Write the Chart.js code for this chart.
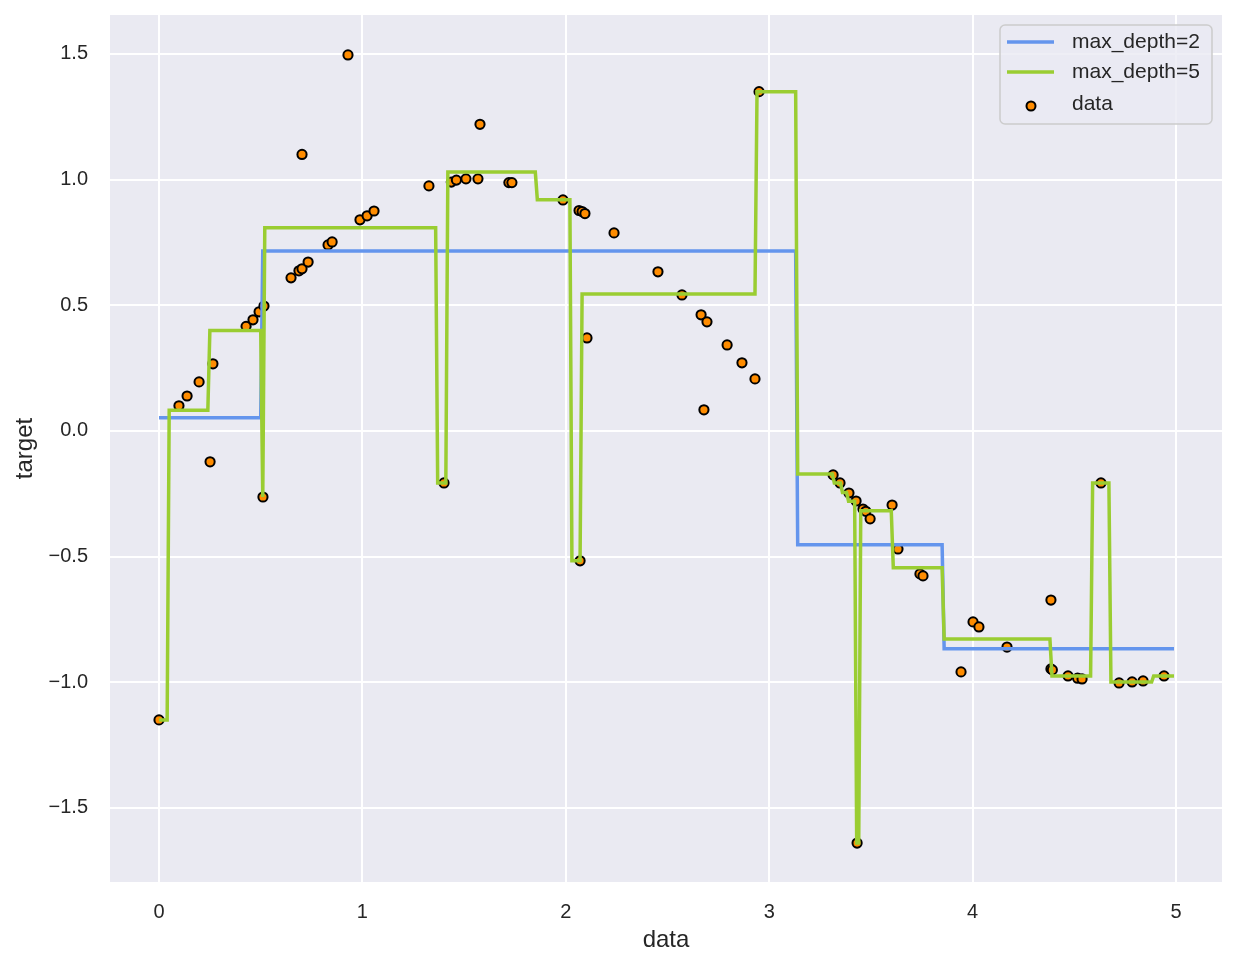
<!DOCTYPE html>
<html>
<head>
<meta charset="utf-8">
<script src="https://cdn.jsdelivr.net/npm/chart.js@4"></script>
<style>
body { margin: 0; background: #fff; }
#wrap { width: 1238px; height: 968px; }
</style>
</head>
<body>
<div id="wrap"><canvas id="grafico"></canvas></div>
<script>
// pontos observados
const dataX = [0.000, 0.098, 0.138, 0.197, 0.251, 0.265, 0.428, 0.462, 0.492, 0.511, 0.516,
    0.649, 0.688, 0.703, 0.703, 0.733, 0.831, 0.851, 0.929, 0.988, 1.023, 1.057,
    1.327, 1.401, 1.437, 1.462, 1.509, 1.568, 1.578, 1.720, 1.735, 1.986,
    2.065, 2.070, 2.080, 2.094, 2.104, 2.237, 2.453, 2.571, 2.665, 2.679, 2.694,
    2.793, 2.866, 2.930, 2.950, 3.314, 3.348, 3.392, 3.427, 3.432, 3.461, 3.475,
    3.496, 3.604, 3.633, 3.741, 3.756, 3.943, 4.002, 4.031, 4.169, 4.385, 4.385,
    4.392, 4.469, 4.516, 4.538, 4.631, 4.720, 4.784, 4.838, 4.941];
const dataY = [-1.150, 0.100, 0.139, 0.195, -0.123, 0.267, 0.416, 0.442, 0.474, -0.263, 0.497,
    0.609, 0.637, 0.645, 1.100, 0.672, 0.740, 0.752, 1.496, 0.840, 0.856, 0.875,
    0.975, -0.207, 0.990, 0.998, 1.003, 1.003, 1.220, 0.988, 0.988, 0.919,
    0.877, -0.517, 0.873, 0.865, 0.370, 0.788, 0.633, 0.541, 0.462, 0.084, 0.434,
    0.342, 0.271, 0.207, 1.350, -0.175, -0.207, -0.247, -0.279, -1.640, -0.311, -0.320,
    -0.350, -0.295, -0.470, -0.569, -0.577, -0.959, -0.760, -0.780, -0.860, -0.673, -0.947,
    -0.951, -0.975, -0.984, -0.987, -0.207, -1.003, -0.999, -0.995, -0.975];

// previsao da arvore max_depth=2 (degraus)
const depth2X = [0, 0.50, 0.51, 3.13, 3.14, 3.85, 3.86, 4.99];
const depth2Y = [0.052, 0.052, 0.716, 0.716, -0.453, -0.453, -0.867, -0.867];

// previsao da arvore max_depth=5
const depth5X = [0, 0.04, 0.05, 0.24, 0.25, 0.50, 0.51, 0.52, 1.36, 1.37, 1.41, 1.42,
    1.85, 1.86, 2.02, 2.03, 2.07, 2.08, 2.93, 2.94, 3.13, 3.14, 3.31, 3.32, 3.35, 3.36,
    3.38, 3.39, 3.42, 3.43, 3.44, 3.45, 3.60, 3.61, 3.85, 3.86, 4.38, 4.39, 4.58, 4.59,
    4.67, 4.68, 4.88, 4.89, 4.99];
const depth5Y = [-1.15, -1.15, 0.082, 0.082, 0.40, 0.40, -0.263, 0.808, 0.808, -0.207, -0.207, 1.03,
    1.03, 0.92, 0.92, -0.517, -0.517, 0.545, 0.545, 1.350, 1.350, -0.171, -0.171, -0.207, -0.207, -0.245,
    -0.245, -0.28, -0.28, -1.64, -1.64, -0.318, -0.318, -0.545, -0.545, -0.828, -0.828, -0.975, -0.975, -0.207,
    -0.207, -0.999, -0.999, -0.975, -0.975];

const xTicks = [0, 1, 2, 3, 4, 5];
const yTicks = [-1.5, -1.0, -0.5, 0.0, 0.5, 1.0, 1.5];

const corTexto = '#262626';
const fonte = 'Arial, "Liberation Sans", sans-serif';

function pares(xs, ys) {
    return xs.map((x, i) => ({ x: x, y: ys[i] }));
}
const menos = s => s.replace('-', '\u2212');

// fundo cinza da area do grafico
const fundo = {
    id: 'fundo',
    beforeDraw(chart) {
        const a = chart.chartArea, ctx = chart.ctx;
        ctx.save();
        ctx.fillStyle = '#EAEAF2';
        ctx.fillRect(a.left, a.top, a.right - a.left, a.bottom - a.top);
        ctx.restore();
    }
};

// legenda dentro do grafico, canto superior direito
const legenda = {
    id: 'legenda',
    afterDraw(chart) {
        const ctx = chart.ctx, a = chart.chartArea;
        const w = 212, h = 99;
        const x0 = a.right - 10 - w, y0 = a.top + 10;
        ctx.save();
        ctx.beginPath();
        ctx.roundRect(x0, y0, w, h, 5);
        ctx.fillStyle = 'rgba(234,234,242,0.8)';
        ctx.fill();
        ctx.strokeStyle = '#cccccc';
        ctx.lineWidth = 1.5;
        ctx.stroke();

        const linhas = [y0 + 17, y0 + 47, y0 + 79];
        ctx.font = '21px ' + fonte;
        ctx.textBaseline = 'middle';
        chart.data.datasets.forEach((ds, i) => {
            const y = linhas[i];
            if (ds.showLine) {
                ctx.beginPath();
                ctx.moveTo(x0 + 7, y);
                ctx.lineTo(x0 + 54, y);
                ctx.strokeStyle = ds.borderColor;
                ctx.lineWidth = 3.5;
                ctx.stroke();
            } else {
                ctx.beginPath();
                ctx.arc(x0 + 31, y + 2, 4.5, 0, Math.PI * 2);
                ctx.fillStyle = ds.backgroundColor;
                ctx.fill();
                ctx.strokeStyle = ds.borderColor;
                ctx.lineWidth = 2;
                ctx.stroke();
            }
            ctx.fillStyle = corTexto;
            ctx.fillText(ds.label, x0 + 72, y);
        });
        ctx.restore();
    }
};

const ctx = document.getElementById('grafico').getContext('2d');
new Chart(ctx, {
    type: 'scatter',
    data: {
        datasets: [
            {
                label: 'max_depth=2',
                data: pares(depth2X, depth2Y),
                showLine: true,
                borderColor: '#6495ED',
                borderWidth: 3.5,
                pointRadius: 0,
                order: 1
            },
            {
                label: 'max_depth=5',
                data: pares(depth5X, depth5Y),
                showLine: true,
                borderColor: '#9ACD32',
                borderWidth: 3.5,
                pointRadius: 0,
                order: 0
            },
            {
                label: 'data',
                data: pares(dataX, dataY),
                backgroundColor: '#FF8C00',
                borderColor: '#000000',
                borderWidth: 2,
                pointRadius: 4.6,
                order: 2
            }
        ]
    },
    options: {
        responsive: true,
        maintainAspectRatio: false,
        animation: false,
        layout: { padding: { top: 15, right: 16, left: 0, bottom: 0 } },
        plugins: {
            legend: { display: false },
            tooltip: { enabled: false }
        },
        scales: {
            x: {
                type: 'linear',
                min: -0.241,
                max: 5.226,
                afterBuildTicks: s => { s.ticks = xTicks.map(v => ({ value: v })); },
                afterFit: s => { s.height = 86; s.paddingLeft = 0; s.paddingRight = 0; },
                grid: { color: '#ffffff', lineWidth: 2, drawTicks: false },
                border: { display: false },
                ticks: {
                    padding: 18,
                    color: corTexto,
                    font: { size: 20, family: fonte },
                    callback: v => menos(String(v))
                },
                title: {
                    display: true,
                    text: 'data',
                    color: corTexto,
                    font: { size: 24, family: fonte },
                    padding: { bottom: 13.6 }
                }
            },
            y: {
                type: 'linear',
                min: -1.795,
                max: 1.655,
                afterBuildTicks: s => { s.ticks = yTicks.map(v => ({ value: v })); },
                afterFit: s => { s.width = 110; s.paddingTop = 0; s.paddingBottom = 0; },
                grid: { color: '#ffffff', lineWidth: 2, drawTicks: false },
                border: { display: false },
                ticks: {
                    padding: 22,
                    color: corTexto,
                    font: { size: 20, family: fonte },
                    callback: v => menos(v.toFixed(1))
                },
                title: {
                    display: true,
                    text: 'target',
                    color: corTexto,
                    font: { size: 24, family: fonte },
                    padding: { top: 10.6 }
                }
            }
        }
    },
    plugins: [fundo, legenda]
});
</script>
</body>
</html>
